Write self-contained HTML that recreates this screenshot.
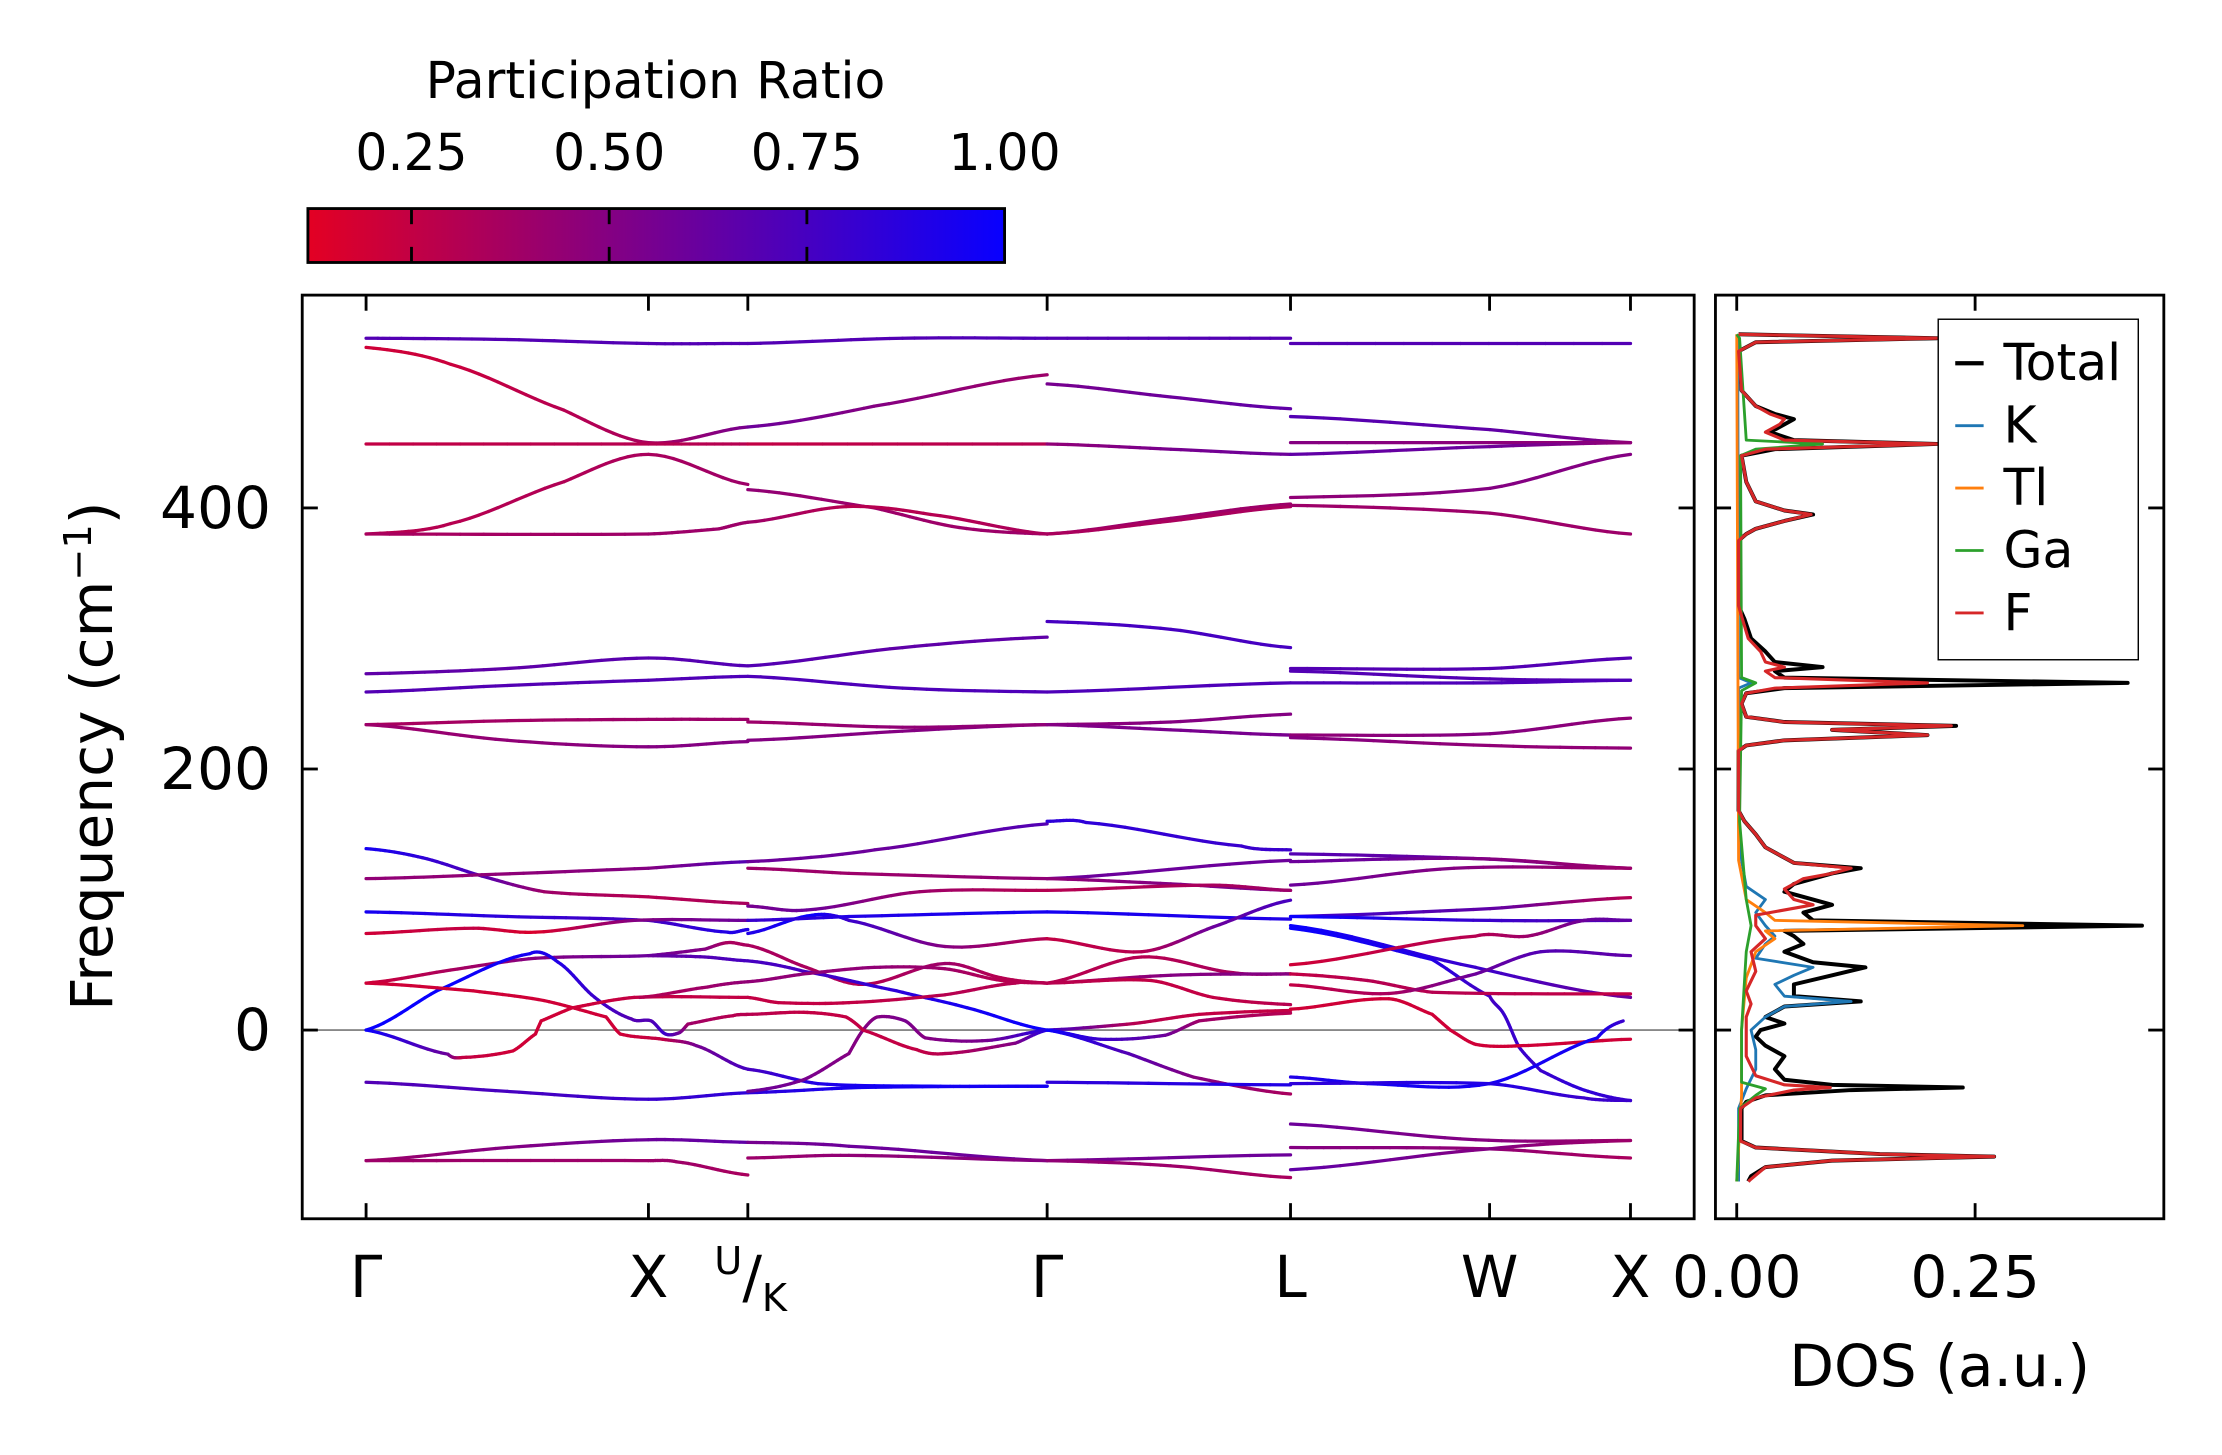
<!DOCTYPE html>
<html><head><meta charset="utf-8"><style>
html,body{margin:0;padding:0;background:#fff;}
svg{display:block;font-family:"DejaVu Sans","Liberation Sans",sans-serif;}
</style></head><body>
<svg id="fig" width="2222" height="1455" viewBox="0 0 1566 1025.5" preserveAspectRatio="none" xmlns="http://www.w3.org/2000/svg">
<defs>
<linearGradient id="cbg" x1="0" x2="1" y1="0" y2="0">
<stop offset="0" stop-color="rgb(227,0,35)"/><stop offset="1" stop-color="rgb(8,0,255)"/>
</linearGradient>
<clipPath id="mainclip"><rect x="213" y="208" width="981" height="651"/></clipPath>
<clipPath id="dosclip"><rect x="1209" y="208" width="316" height="651"/></clipPath>
</defs>
<g>
<text x="462" y="69" font-size="35.5" text-anchor="middle">Participation Ratio</text>
<rect x="217" y="147" width="491" height="38" fill="url(#cbg)" stroke="#000" stroke-width="2"/>
<g id="cbticks"></g>
</g>
<g id="main"></g>
<g id="dos"></g>
</svg>
<script>
// ---- band structure data: each band = [k, freq, participation] nodes ----
const kTickPos = [0, 1.0, 1.352, 2.412, 3.274, 3.979, 4.478];
const kTickLabels = ['Γ','X','U/K','Γ','L','W','X'];
const yTicks = [0, 200, 400];
const cbTicks = [0.25, 0.50, 0.75, 1.00];
const cbTickLabels = ['0.25','0.50','0.75','1.00'];
const dosTicks = [0.00, 0.25];
const dosTickLabels = ['0.00','0.25'];
const bands = [
[[0,530,.7],[0.5,529,.7],[1,526,.7],[1.352,526,.7]],
[[0,523,.2],[0.3,510,.22],[0.7,475,.3],[1,450,.35],[1.352,462,.55]],
[[0,449,.25],[1,449,.3],[1.352,449,.3]],
[[0,380,.3],[0.3,388,.3],[0.7,420,.32],[1,441,.35],[1.352,418,.4]],
[[0,380,.35],[1,380,.4],[1.25,384,.4],[1.352,389,.4]],
[[0,273,.65],[0.5,277,.65],[1,285,.68],[1.352,279,.7]],
[[0,259,.7],[0.5,264,.7],[1,268,.7],[1.352,271,.72]],
[[0,234,.35],[0.5,237,.38],[1,238,.4],[1.352,238,.4]],
[[0,234,.4],[0.5,222,.45],[1,217,.5],[1.352,221,.5]],
[[0,139,.95],[0.2,132,.85],[0.41,118,.7],[0.63,106,.4],[1,102,.3],[1.352,97,.35]],
[[0,116,.45],[0.41,119,.45],[1,124,.5],[1.352,129,.7]],
[[0,90.5,.95],[0.5,87,.85],[1,84,.75],[1.28,75,.9],[1.352,77,.9]],
[[0,74,.2],[0.38,78,.25],[0.6,75,.15],[0.95,84,.5],[1.352,84,.6]],
[[0,36,.2],[0.3,46,.35],[0.6,55,.5],[1,57,.6],[1.2,62,.5],[1.28,67,.35],[1.352,65,.35]],
[[1,57,.6],[1.2,56,.7],[1.352,53,.75]],
[[0,0,1],[0.25,30,1],[0.58,58.5,.95],[0.68,52,.9],[0.81,25,.8],[0.94,8.5,.7],[1.01,7,.7],[1.06,-3,.8],[1.11,-2,.6],[1.14,4.6,.4],[1.3,11,.3],[1.352,12,.3]],
[[0,36,.2],[0.38,30,.2],[0.63,22.6,.2],[0.85,10,.2],[0.9,-3,.2],[1.05,-7,.25],[1.17,-12,.55],[1.352,-30,.75]],
[[0,0,1],[0.29,-18.5,.6],[0.34,-21,.25],[0.52,-16,.2],[0.6,-3,.2],[0.62,7,.2],[0.73,17,.2],[0.95,25,.25],[1.352,25,.25]],
[[0.97,25,.3],[1.21,33,.4],[1.352,37,.45]],
[[0,-40,.7],[0.5,-47,.75],[1,-53,.8],[1.352,-48,.85]],
[[0,-100,.4],[0.5,-90,.5],[1,-84,.6],[1.352,-86,.65]],
[[0,-100,.4],[1,-100,.4],[1.1,-101,.4],[1.352,-111,.35]],
[[1.352,526,.7],[1.9,530,.7],[2.412,530,.72]],
[[1.352,462,.6],[1.8,478,.5],[2.412,502,.4]],
[[1.352,449,.25],[2.412,449,.3]],
[[1.352,414,.45],[1.8,400,.4],[2.1,385,.4],[2.412,380,.4]],
[[1.352,389,.4],[1.7,401,.3],[2.0,395,.3],[2.412,380,.35]],
[[1.352,279,.7],[1.9,293,.65],[2.412,301,.65]],
[[1.352,271,.72],[1.9,262,.72],[2.412,259,.72]],
[[1.352,222,.5],[1.9,229,.5],[2.412,234,.5]],
[[1.352,236,.4],[1.9,232,.45],[2.412,234,.45]],
[[1.352,129,.6],[1.8,138,.6],[2.412,158,.7]],
[[1.352,124,.4],[1.71,120,.4],[2.412,116,.45]],
[[1.352,95,.55],[1.56,92,.6],[1.96,106,.4],[2.412,107,.3]],
[[1.352,74,.9],[1.58,88,1],[1.71,84,.8],[2.05,64,.5],[2.412,70,.3]],
[[1.352,84,.8],[1.71,87,.9],[2.412,90.5,.95]],
[[1.352,65,.35],[1.56,48,.35],[1.76,35,.3],[2.05,51,.4],[2.25,40,.3],[2.412,36,.3]],
[[1.352,53,.75],[1.55,45,.75],[1.88,30,.85],[2.13,17,.95],[2.412,0,1]],
[[1.352,25,.25],[1.46,21,.25],[1.71,21,.25],[2.05,27,.3],[2.3,36,.3],[2.412,36,.3]],
[[1.352,37,.45],[1.55,43,.45],[1.8,48,.45],[2.05,47,.4],[2.25,38,.3],[2.412,36,.3]],
[[1.352,-30,.75],[1.6,-41,.9],[2.0,-43,1],[2.412,-43,1]],
[[1.352,-48,.85],[1.75,-44,.95],[2.412,-43,.95]],
[[1.352,-47,.6],[1.55,-38,.55],[1.71,-18,.5],[1.76,0,.5],[1.81,10,.5],[1.91,7,.55],[1.98,-6,.5],[2.2,-8,.55],[2.412,0,.9]],
[[1.352,12,.3],[1.55,13.6,.25],[1.7,10,.25],[1.76,0,.25],[1.95,-15,.25],[2.05,-18,.3],[2.3,-10,.5],[2.412,0,.9]],
[[1.352,-86,.55],[1.71,-89,.6],[2.412,-100,.6]],
[[1.352,-98,.4],[1.71,-96,.45],[2.412,-100,.5]],
[[2.412,530,.7],[3.274,530,.7]],
[[2.412,495,.55],[2.85,485,.6],[3.274,476,.65]],
[[2.412,449,.45],[2.85,445,.55],[3.274,441,.6]],
[[2.412,380,.4],[2.85,392,.4],[3.274,403,.4]],
[[2.412,380,.35],[2.85,390,.35],[3.274,401,.35]],
[[2.412,313,.75],[2.85,307,.75],[3.274,293,.75]],
[[2.412,259,.72],[3.274,266,.72]],
[[2.412,234,.45],[2.85,236,.5],[3.274,242,.5]],
[[2.412,234,.5],[2.85,230,.55],[3.274,226,.55]],
[[2.412,160,.85],[2.55,159,.85],[3.1,141,.8],[3.274,138,.8]],
[[2.412,116,.6],[3.274,130,.6]],
[[2.412,116,.45],[2.85,112,.5],[3.274,107,.55]],
[[2.412,107,.3],[3.0,111,.35],[3.274,107,.4]],
[[2.412,90.5,.95],[3.274,85,.9]],
[[2.412,70,.25],[2.746,60,.3],[3.0,79,.6],[3.274,99.5,.75]],
[[2.412,36,.3],[2.746,56,.3],[3.07,44,.35],[3.274,43,.35]],
[[2.412,36,.3],[2.85,42,.5],[3.274,43,.5]],
[[2.412,36,.3],[2.78,38,.25],[3.0,25,.25],[3.274,19.5,.3]],
[[2.412,0,.8],[2.72,5,.3],[2.95,12,.25],[3.274,15,.25]],
[[2.412,0,1],[2.6,-7,.8],[2.83,-4,.6],[2.95,7,.4],[3.274,13,.3]],
[[2.412,0,1],[2.7,-18,.7],[2.93,-36,.5],[3.274,-49,.35]],
[[2.412,-40,.85],[3.274,-42,.9]],
[[2.412,-100,.55],[3.274,-95.6,.6]],
[[2.412,-100,.45],[2.85,-104,.4],[3.274,-113,.35]],
[[3.274,526,.7],[4.478,526,.7]],
[[3.274,470,.7],[3.98,460,.65],[4.478,450,.5]],
[[3.274,450,.5],[4.478,450,.45]],
[[3.274,441,.65],[3.98,447,.6],[4.478,450,.45]],
[[3.274,408,.45],[3.98,415,.5],[4.478,441,.5]],
[[3.274,402,.4],[3.98,396,.4],[4.478,380,.4]],
[[3.274,277,.7],[3.98,277,.7],[4.478,285,.7]],
[[3.274,275,.7],[3.98,269,.7],[4.478,268,.7]],
[[3.274,266,.72],[3.98,266,.72],[4.478,268,.72]],
[[3.274,226,.45],[3.98,227,.5],[4.478,239,.45]],
[[3.274,224,.5],[3.98,218,.45],[4.478,216,.45]],
[[3.274,135,.7],[3.98,131,.6],[4.478,124,.5]],
[[3.274,129,.6],[3.622,131,.6],[3.98,131,.5],[4.478,124,.4]],
[[3.274,111,.6],[3.853,124,.5],[4.478,124,.4]],
[[3.274,87,.8],[3.98,93,.65],[4.478,101.5,.3]],
[[3.274,87,1],[3.98,84,.8],[4.478,84,.7]],
[[3.274,80,1],[3.93,48,.8],[4.478,25,.6]],
[[3.274,78,1],[3.776,54,.9],[3.979,26,.75],[4.03,12,.8],[4.083,-13,.8],[4.16,-31,.8],[4.314,-46,.85],[4.478,-54,.8]],
[[3.274,50,.2],[3.93,72,.3],[4.114,72,.4],[4.314,84,.6],[4.478,84,.65]],
[[3.274,43,.25],[3.546,38,.3],[3.776,29,.3],[4.478,27.7,.25]],
[[3.274,34.6,.25],[3.622,28,.35],[3.93,43,.6],[4.16,60,.7],[4.478,57,.65]],
[[3.274,16,.2],[3.622,24,.2],[3.776,12,.2],[3.84,0,.2],[3.93,-11,.2],[4.083,-12,.2],[4.478,-7,.2]],
[[3.274,-36,.9],[3.546,-41,.95],[3.979,-41,.95],[4.36,-6,.95],[4.452,7,.8]],
[[3.274,-41,.85],[3.979,-41,.9],[4.314,-52,.8],[4.478,-54,.8]],
[[3.274,-72,.6],[3.93,-84,.5],[4.478,-84.6,.4]],
[[3.274,-90,.5],[3.979,-91,.45],[4.478,-98,.35]],
[[3.274,-107,.65],[3.979,-91,.5],[4.478,-84.6,.4]]
];
// ---- DOS data: [freq, dos] ----
const dosTotal = [[-116,0.012],[-112,0.015],[-105,0.03],[-100,0.1],[-97,0.27],[-95,0.15],[-90,0.02],[-85,0.005],[-60,0.005],[-55,0.01],[-50,0.03],[-46,0.12],[-44,0.237],[-42,0.1],[-38,0.05],[-30,0.04],[-20,0.05],[-12,0.03],[-5,0.02],[0,0.025],[5,0.05],[10,0.03],[18,0.05],[22,0.13],[26,0.06],[35,0.06],[42,0.1],[48,0.135],[52,0.08],[60,0.05],[66,0.07],[72,0.06],[76,0.05],[80,0.425],[84,0.08],[90,0.07],[96,0.1],[100,0.08],[106,0.05],[112,0.06],[120,0.1],[124,0.13],[128,0.06],[140,0.03],[150,0.02],[160,0.008],[168,0.002],[214,0.002],[218,0.01],[222,0.05],[226,0.2],[230,0.1],[233,0.23],[236,0.05],[240,0.01],[250,0.005],[258,0.01],[262,0.05],[266,0.41],[270,0.05],[275,0.04],[278,0.09],[282,0.04],[290,0.03],[300,0.015],[315,0.008],[325,0.002],[375,0.002],[380,0.01],[384,0.02],[390,0.05],[395,0.08],[398,0.05],[405,0.02],[420,0.01],[440,0.005],[445,0.04],[449,0.21],[452,0.06],[458,0.035],[464,0.05],[468,0.06],[472,0.04],[478,0.02],[490,0.005],[520,0.002],[527,0.02],[530,0.21],[533,0.002]];
const dosF = [[-116,0.012],[-105,0.03],[-100,0.1],[-97,0.27],[-95,0.15],[-90,0.02],[-85,0.004],[-60,0.004],[-52,0.02],[-46,0.06],[-44,0.098],[-42,0.05],[-35,0.02],[-20,0.01],[0,0.01],[10,0.01],[20,0.015],[30,0.01],[45,0.02],[60,0.015],[70,0.03],[80,0.02],[88,0.02],[96,0.08],[100,0.06],[108,0.05],[116,0.07],[120,0.1],[124,0.12],[128,0.06],[140,0.03],[150,0.02],[160,0.008],[168,0.002],[214,0.002],[218,0.01],[222,0.05],[226,0.2],[230,0.1],[233,0.225],[236,0.05],[240,0.01],[250,0.005],[258,0.01],[262,0.04],[266,0.2],[270,0.04],[275,0.03],[278,0.05],[282,0.03],[290,0.025],[300,0.012],[315,0.006],[325,0.002],[375,0.002],[380,0.01],[384,0.02],[390,0.05],[395,0.078],[398,0.05],[405,0.02],[420,0.01],[440,0.005],[445,0.03],[449,0.21],[452,0.05],[458,0.03],[464,0.045],[468,0.05],[472,0.035],[478,0.02],[490,0.005],[520,0.002],[527,0.02],[530,0.21],[533,0.002]];
const dosK = [[-116,0.002],[-60,0.002],[-45,0.01],[-30,0.02],[-15,0.02],[0,0.015],[10,0.03],[18,0.05],[22,0.12],[26,0.05],[35,0.04],[42,0.06],[48,0.08],[55,0.02],[66,0.03],[72,0.04],[80,0.03],[90,0.02],[100,0.03],[110,0.01],[130,0.005],[170,0.002],[262,0.002],[266,0.015],[270,0.002],[533,0.001]];
const dosTl = [[-116,0],[-50,0.005],[0,0.005],[40,0.01],[60,0.02],[70,0.04],[76,0.03],[80,0.30],[84,0.04],[90,0.03],[100,0.01],[130,0.002],[533,0]];
const dosGa = [[-116,0],[-60,0.003],[-50,0.02],[-45,0.03],[-40,0.005],[0,0.005],[60,0.01],[80,0.015],[100,0.01],[160,0.003],[260,0.005],[266,0.02],[270,0.005],[440,0.004],[445,0.02],[449,0.09],[452,0.01],[530,0.003],[533,0]];
const legendLabels = ['Total','K','Tl','Ga','F'];

const NS='http://www.w3.org/2000/svg';
function mk(tag, parent){const e=document.createElementNS(NS,tag);parent.appendChild(e);return e;}
const X0=258, KPX=199, Y0=726, FPX=0.92;
function xk(k){return X0+k*KPX;}
function yf(f){return Y0-f*FPX;}
function xd(d){return 1224+d*672;}
function pcol(p){const t=Math.max(0,Math.min(1,(p-0.12)/0.88));return `rgb(${Math.round(227-219*t)},0,${Math.round(35+220*t)})`;}

const main=document.getElementById('main');
const fr=mk('rect',main);fr.setAttribute('x',213);fr.setAttribute('y',208);fr.setAttribute('width',981);fr.setAttribute('height',651);fr.setAttribute('fill','none');fr.setAttribute('stroke','#000');fr.setAttribute('stroke-width',2);


const zl=mk('line',main);zl.setAttribute('x1',213);zl.setAttribute('x2',1194);zl.setAttribute('y1',yf(0));zl.setAttribute('y2',yf(0));zl.setAttribute('stroke','#888');zl.setAttribute('stroke-width',1.3);


const bg=mk('g',main);bg.setAttribute('clip-path','url(#mainclip)');


function cr(p0,p1,p2,p3,t){const t2=t*t,t3=t2*t;return 0.5*((2*p1)+(-p0+p2)*t+(2*p0-5*p1+4*p2-p3)*t2+(-p0+3*p1-3*p2+p3)*t3);}
bands.forEach((b,bi)=>{
  const g=mk('g',bg);
  
  
  const pts=[];
  for(let i=0;i<b.length-1;i++){
    const a=b[Math.max(0,i-1)],p=b[i],q=b[i+1],c=b[Math.min(b.length-1,i+2)];
    const n=12;
    for(let s=0;s<n;s++){const t=s/n;
      const k=p[0]+(q[0]-p[0])*t;
      const f=cr(a[1],p[1],q[1],c[1],t);
      const pp=p[2]+(q[2]-p[2])*t;
      pts.push([k,f,pp]);}
  }
  pts.push(b[b.length-1]);
  for(let i=0;i<pts.length-1;i++){
    const l=mk('line',g);
    l.setAttribute('x1',xk(pts[i][0]).toFixed(2));l.setAttribute('y1',yf(pts[i][1]).toFixed(2));
    l.setAttribute('x2',xk(pts[i+1][0]).toFixed(2));l.setAttribute('y2',yf(pts[i+1][1]).toFixed(2));
    l.setAttribute('stroke',pcol((pts[i][2]+pts[i+1][2])/2));l.setAttribute('stroke-width',2.3);l.setAttribute('stroke-linecap','round');
  }
});
kTickPos.forEach((k,i)=>{
  [[208,219],[848,859]].forEach(([a,b2])=>{const t=mk('line',main);t.setAttribute('x1',xk(k));t.setAttribute('x2',xk(k));t.setAttribute('y1',a);t.setAttribute('y2',b2);t.setAttribute('stroke','#000');t.setAttribute('stroke-width',2);
  
  });
  if(kTickLabels[i]==='U/K'){
    const tx=mk('text',main);tx.setAttribute('x',xk(k)+2);tx.setAttribute('y',914);tx.setAttribute('font-size',41);tx.setAttribute('text-anchor','middle');
    
    
    tx.innerHTML='<tspan font-size="27" dy="-16">U</tspan><tspan dy="16">/</tspan><tspan font-size="27" dy="10">K</tspan>';
  } else {
    const tx=mk('text',main);tx.setAttribute('x',xk(k));tx.setAttribute('y',914);tx.setAttribute('font-size',41);tx.setAttribute('text-anchor','middle');tx.textContent=kTickLabels[i];
    
    
  }
});
yTicks.forEach(v=>{
  [[213,224],[1183,1194],[1209,1220],[1514,1525]].forEach(([a,b2])=>{const t=mk('line',main);t.setAttribute('x1',a);t.setAttribute('x2',b2);t.setAttribute('y1',yf(v));t.setAttribute('y2',yf(v));t.setAttribute('stroke','#000');t.setAttribute('stroke-width',2);
  
  });
  const tx=mk('text',main);tx.setAttribute('x',191);tx.setAttribute('y',yf(v)+14);tx.setAttribute('font-size',41);tx.setAttribute('text-anchor','end');tx.textContent=String(v);
  
  
});
const yl=mk('text',main);yl.setAttribute('transform','translate(79,533) rotate(-90)');yl.setAttribute('font-size',41);yl.setAttribute('text-anchor','middle');


yl.innerHTML='Frequency (cm<tspan font-size="27" dy="-15">−1</tspan><tspan dy="15">)</tspan>';

const cbt=document.getElementById('cbticks');
cbTicks.forEach((v,i)=>{
  const x=217+(v-0.119)/0.881*491;
  if(v<1){[[147,158],[174,185]].forEach(([a,b2])=>{const t=mk('line',cbt);t.setAttribute('x1',x);t.setAttribute('x2',x);t.setAttribute('y1',a);t.setAttribute('y2',b2);t.setAttribute('stroke','#000');t.setAttribute('stroke-width',2);
  
  });}
  const tx=mk('text',cbt);tx.setAttribute('x',x);tx.setAttribute('y',120);tx.setAttribute('font-size',35.5);tx.setAttribute('text-anchor','middle');tx.textContent=cbTickLabels[i];
  
  
});

const dos=document.getElementById('dos');
const df=mk('rect',dos);df.setAttribute('x',1209);df.setAttribute('y',208);df.setAttribute('width',316);df.setAttribute('height',651);df.setAttribute('fill','none');df.setAttribute('stroke','#000');df.setAttribute('stroke-width',2);


const dg=mk('g',dos);dg.setAttribute('clip-path','url(#dosclip)');


const series=[[dosTotal,'#000',2.8,'dos-total'],[dosK,'#1f77b4',2,'dos-k'],[dosTl,'#ff7f0e',2,'dos-tl'],[dosGa,'#2ca02c',2,'dos-ga'],[dosF,'#d62728',2.2,'dos-f']];
series.forEach(([arr,c,w,nm])=>{
  const p=mk('polyline',dg);p.setAttribute('points',arr.map(d=>xd(d[1]).toFixed(1)+','+yf(d[0]).toFixed(1)).join(' '));
  p.setAttribute('fill','none');p.setAttribute('stroke',c);p.setAttribute('stroke-width',w);p.setAttribute('stroke-linejoin','round');
  
  
});
dosTicks.forEach((v,i)=>{
  [[208,219],[848,859]].forEach(([a,b2])=>{const t=mk('line',dos);t.setAttribute('x1',xd(v));t.setAttribute('x2',xd(v));t.setAttribute('y1',a);t.setAttribute('y2',b2);t.setAttribute('stroke','#000');t.setAttribute('stroke-width',2);
  
  });
  const tx=mk('text',dos);tx.setAttribute('x',xd(v));tx.setAttribute('y',914);tx.setAttribute('font-size',41);tx.setAttribute('text-anchor','middle');tx.textContent=dosTickLabels[i];
  
  
});
const dl=mk('text',dos);dl.setAttribute('x',1367);dl.setAttribute('y',977);dl.setAttribute('font-size',41);dl.setAttribute('text-anchor','middle');dl.textContent='DOS (a.u.)';


const lg=mk('g',dos);


const lb=mk('rect',lg);lb.setAttribute('x',1366);lb.setAttribute('y',225);lb.setAttribute('width',141);lb.setAttribute('height',240);lb.setAttribute('fill','#fff');lb.setAttribute('stroke','#000');lb.setAttribute('stroke-width',1);


const lcols=['#000','#1f77b4','#ff7f0e','#2ca02c','#d62728'];
legendLabels.forEach((t,i)=>{
  const y=256+i*44;
  const e=mk('g',lg);
  
  
  const l=mk('line',e);l.setAttribute('x1',1378);l.setAttribute('x2',1398);l.setAttribute('y1',y);l.setAttribute('y2',y);l.setAttribute('stroke',lcols[i]);l.setAttribute('stroke-width',i===0?3:2);
  const tx=mk('text',e);tx.setAttribute('x',1412);tx.setAttribute('y',y+12);tx.setAttribute('font-size',35.5);tx.textContent=t;
});
</script>
</body></html>
